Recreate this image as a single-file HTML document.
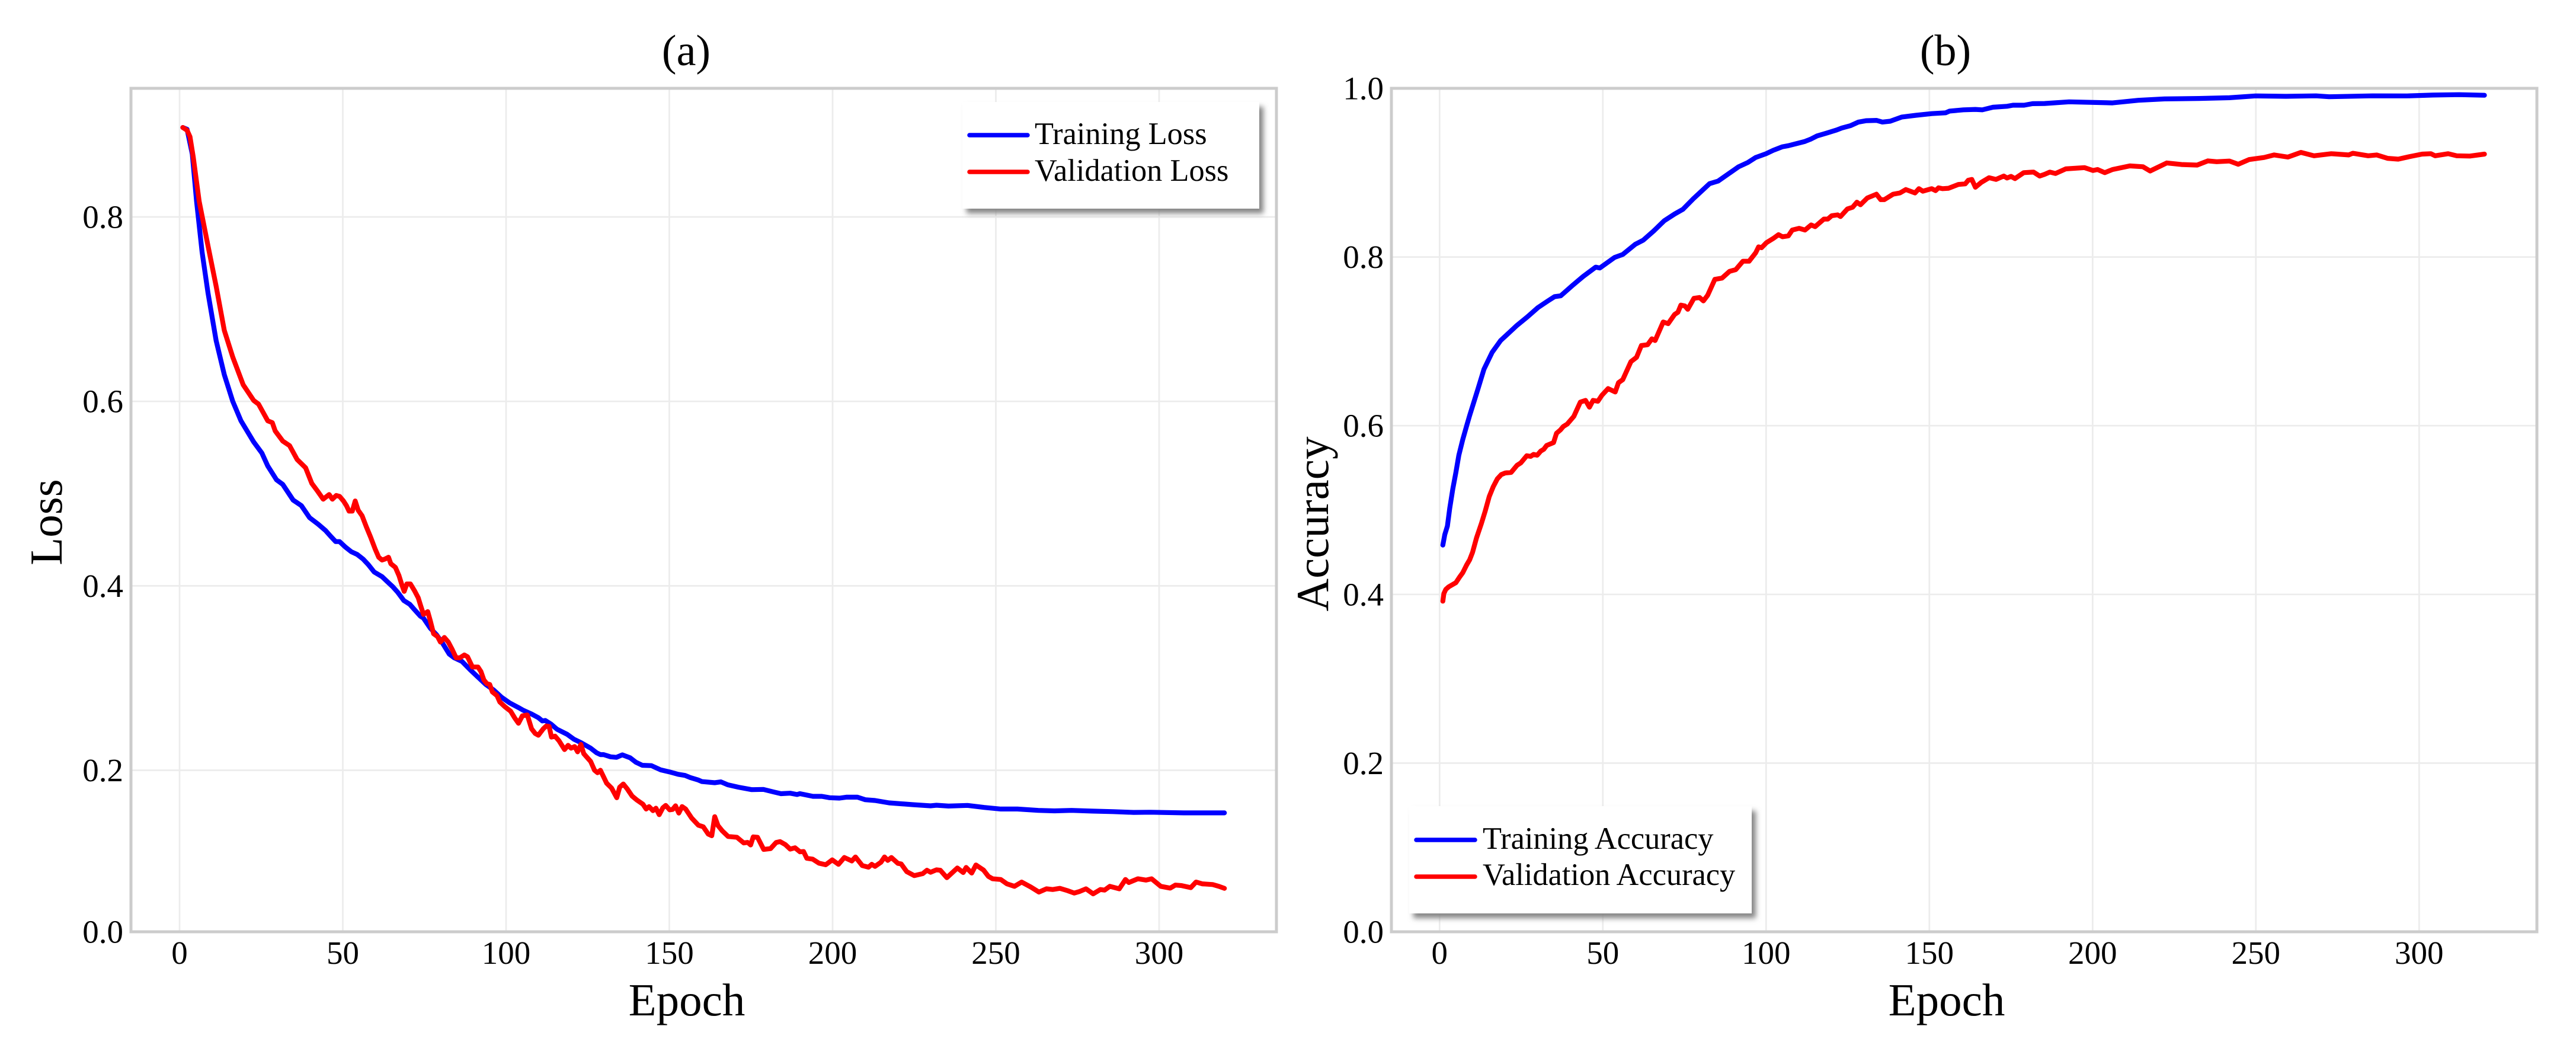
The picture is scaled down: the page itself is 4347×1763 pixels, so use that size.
<!DOCTYPE html>
<html lang="en">
<head>
<meta charset="utf-8">
<title>Training and validation curves</title>
<style>
html,body{margin:0;padding:0;background:#fff;width:4347px;height:1763px;overflow:hidden}
svg{display:block}
text{font-family:"Liberation Serif",serif;fill:#000}
.tick{font-size:55px}
.axis-title{font-size:77px}
.panel-title{font-size:74px}
.legend-text{font-size:52.4px}
</style>
</head>
<body>
<svg id="figure" xmlns="http://www.w3.org/2000/svg" width="4347" height="1763" viewBox="0 0 4347 1763">
  <defs>
    <filter id="soft" x="-10%" y="-20%" width="120%" height="140%"><feGaussianBlur stdDeviation="4.5"/></filter>
  </defs>
  <rect width="4347" height="1763" fill="#fff"/>

  <g id="panel-a">
    <g id="a-grid"></g>
    <g id="a-lines"></g>
    <rect x="221" y="149" width="1933" height="1423" fill="none" stroke="#cccccc" stroke-width="5"/>
    <g id="a-ticks"></g>
    <text class="panel-title" x="1158" y="110" text-anchor="middle">(a)</text>
    <text class="axis-title" x="1159" y="1713" text-anchor="middle">Epoch</text>
    <text class="axis-title" transform="translate(104 881) rotate(-90)" text-anchor="middle">Loss</text>
    <g>
      <rect x="1631" y="180" width="501" height="180" fill="#858585" filter="url(#soft)"/>
      <rect x="1624" y="172" width="501" height="180" fill="#fff"/>
      <line x1="1636" x2="1734" y1="228" y2="228" stroke="#0000ff" stroke-width="7.5" stroke-linecap="round"/>
      <text class="legend-text" x="1746" y="243">Training Loss</text>
      <line x1="1636" x2="1734" y1="290" y2="290" stroke="#ff0000" stroke-width="7.5" stroke-linecap="round"/>
      <text class="legend-text" x="1746" y="305">Validation Loss</text>
    </g>
  </g>

  <g id="panel-b">
    <g id="b-grid"></g>
    <g id="b-lines"></g>
    <rect x="2348" y="149" width="1933" height="1423" fill="none" stroke="#cccccc" stroke-width="5"/>
    <g id="b-ticks"></g>
    <text class="panel-title" x="3283" y="110" text-anchor="middle">(b)</text>
    <text class="axis-title" x="3285" y="1713" text-anchor="middle">Epoch</text>
    <text class="axis-title" transform="translate(2241 884) rotate(-90)" text-anchor="middle">Accuracy</text>
    <g>
      <rect x="2385" y="1368" width="578" height="181" fill="#858585" filter="url(#soft)"/>
      <rect x="2378" y="1360" width="578" height="181" fill="#fff"/>
      <line x1="2390" x2="2489" y1="1417" y2="1417" stroke="#0000ff" stroke-width="7.5" stroke-linecap="round"/>
      <text class="legend-text" x="2502" y="1432">Training Accuracy</text>
      <line x1="2390" x2="2489" y1="1479" y2="1479" stroke="#ff0000" stroke-width="7.5" stroke-linecap="round"/>
      <text class="legend-text" x="2502" y="1493">Validation Accuracy</text>
    </g>
  </g>
</svg>

<script>
var xTickValues = [0, 50, 100, 150, 200, 250, 300];
var lossYTickValues = [0, 0.2, 0.4, 0.6, 0.8];
var accYTickValues = [0, 0.2, 0.4, 0.6, 0.8, 1];

var lossTrainEpochs = [
1,2.3,3.9,5.2,6.9,8.7,11.2,13.7,16.3,18.8,
22.7,25.2,27,29.7,31.6,34.8,37.3,39.8,42.4,44.7,
46.2,47.8,49,50.8,52.6,54.4,56.2,57.8,59.6,62,
64.1,65.3,66.8,68.7,70.5,72,73.8,74.7,76.8,78.7,
80.5,82.6,84.1,86.5,89,91.4,93.8,96.2,98.7,101.1,
103.8,105.3,107.8,109.9,111.1,112,113.8,115.6,118.7,120.8,
122.9,125.9,127.7,128.9,129.9,132,133.8,135.6,138,139.8,
141.7,144.5,147.3,150,152.7,154.8,156.4,158.8,160,163.9,
165.8,167.9,171.2,175.2,178.8,182.1,184.2,187,189.1,190,
194,196.7,199.1,202.1,204.2,207.6,210,213,217.3,224.5,
230,231.8,235.5,241.3,246.4,251.5,256.6,263,268,273.2,
279.5,285.9,292.2,297.3,307.5,312.6,320];
var lossTrainValues = [
.897,.895,.868,.817,.762,.718,.666,.629,.600,.579,
.556,.544,.530,.515,.510,.493,.487,.474,.467,.460,
.454,.448,.448,.442,.437,.434,.429,.423,.415,.410,
.403,.399,.393,.384,.380,.374,.367,.365,.354,.347,
.338,.326,.322,.318,.309,.301,.293,.287,.279,.273,
.268,.265,.261,.257,.2535,.254,.250,.2445,.239,.2336,
.230,.224,.219,.217,.217,.2146,.214,.2167,.2135,.2086,
.2054,.205,.2005,.198,.195,.1936,.191,.188,.186,.1846,
.1856,.182,.179,.176,.1763,.173,.171,.1716,.170,.171,
.1677,.1677,.166,.1655,.1667,.1667,.1635,.1626,.1596,.1574,
.156,.1567,.1557,.1565,.154,.152,.152,.1503,.1497,.1503,
.1494,.1488,.1478,.148,.1472,.1472,.1472];

var lossValEpochs = [
1,2.3,3.2,4.2,6,8.7,11.2,13.7,16.3,19.5,
22.7,24.2,27,28.4,29.3,31.6,33.7,36,38.6,40.5,
42.4,44,45.8,46.8,48,49,50.2,51.1,51.9,52.9,
53.8,54.7,55.9,57.2,58.5,59.9,61,62,62.9,64,
64.7,66.1,67.2,68.1,68.8,69.6,70.7,71.9,73.1,73.8,
74.7,76,76.8,77.8,79,79.9,81.1,82.3,83.5,84.7,
85.9,87.2,88.2,89.7,91.4,92.3,93.2,94.1,95,95.8,
97.2,98.1,99.6,101.4,102.6,103.8,105,106.5,107.8,108.9,
109.9,111.4,112.3,113.2,113.9,115,116.2,117.9,119,119.9,
121,121.9,122.9,123.8,125.9,127.1,128,128.9,130.8,132.3,
133.9,134.8,135.9,137.1,138.6,140.1,141.9,142.9,143.8,145,
145.9,146.9,148,148.9,150.1,151,151.9,152.9,153.9,155,
156.8,158.9,160.4,161.9,163,163.9,164.9,166.2,168,170.7,
172.8,174,174.9,175.7,177,178.9,181,182.7,183.9,185.5,
187,188.5,190,191.1,192.1,193.9,195.8,197.9,199.9,201.8,
203.6,205.9,207,209.1,211,212,213,214.8,215.9,216.9,
218,220,221,222.7,225,227.6,228.9,230,231.8,233,
235,238.2,240,240.9,242.6,243.9,246.2,247.7,249,251.5,
253.4,255.7,257.9,260.7,263.2,265.5,267.4,269.6,271.9,274,
275.7,277.6,279.8,282,283.3,284.9,287.8,289.7,290.7,293.5,
296,297.7,300.5,303.4,305,306.9,309.7,311.3,313.2,316.4,
318.3,320];
var lossValValues = [
.897,.894,.887,.865,.817,.769,.725,.677,.648,.618,
.601,.597,.579,.577,.568,.557,.552,.537,.528,.511,
.502,.494,.499,.494,.498,.497,.492,.487,.481,.481,
.492,.482,.476,.464,.453,.440,.431,.428,.429,.431,
.424,.420,.411,.401,.394,.402,.402,.395,.387,.379,
.369,.372,.362,.348,.345,.339,.344,.339,.331,.322,
.322,.325,.323,.312,.312,.307,.298,.294,.293,.285,
.281,.274,.269,.264,.257,.251,.259,.260,.245,.240,
.238,.245,.248,.2475,.236,.237,.232,.2225,.227,.224,
.2257,.220,.228,.218,.2096,.200,.197,.200,.184,.178,
.166,.179,.183,.177,.168,.163,.158,.152,.155,.150,
.153,.145,.1535,.1565,.151,.1515,.156,.147,.155,.152,
.141,.132,.130,.121,.119,.1425,.1315,.125,.118,.117,
.110,.1107,.1075,.1175,.117,.102,.103,.1105,.1117,.108,
.1024,.104,.099,.0994,.091,.090,.085,.083,.089,.0835,
.092,.0877,.0926,.082,.080,.0835,.081,.086,.0926,.0884,
.092,.0847,.084,.0745,.0696,.072,.0762,.0737,.0767,.0762,
.067,.079,.0734,.0796,.0727,.0827,.0765,.0687,.0656,.0647,
.0594,.0563,.0616,.0554,.0492,.0532,.0523,.0538,.051,.0479,
.050,.0532,.047,.0523,.0516,.0563,.0532,.0647,.061,.0656,
.064,.0656,.0563,.0541,.0578,.0572,.0547,.0616,.0594,.0585,
.0563,.0538];

var accTrainEpochs = [
1,1.6,2.4,3.1,4.05,5,5.9,7.1,8.3,9.2,
11.7,13.6,16.1,18.7,21.2,23.7,26.9,30.1,33.2,35.2,
37.1,40.9,44,47.8,49.1,53.6,56.1,59.9,62.4,65.6,
68.8,72,74.5,77.7,82.7,85.3,91.6,94.4,96.8,100,
102.2,105,106.8,108.9,111.9,113.8,115.6,118.6,121.6,123.2,
125.9,128.3,130.7,133.8,135.6,138,141.6,145.9,150.7,155,
156.2,160.4,164.1,166.2,169.5,173.8,175.6,179,181.6,185.3,
192.8,206.1,214,222,232.6,241.9,249.9,259.2,268.4,272.4,
285.7,296.3,304.2,312.2,320];
var accTrainValues = [
.4585,.471,.481,.502,.525,.545,.565,.5836,.600,.612,
.643,.667,.687,.701,.710,.719,.729,.740,.748,.753,
.754,.767,.777,.788,.787,.7995,.803,.815,.820,.831,
.843,.851,.8565,.869,.887,.890,.907,.912,.918,.9225,
.9265,.9307,.932,.934,.937,.940,.9436,.947,.9506,.953,
.9558,.960,.9616,.962,.960,.961,.966,.968,.970,.971,
.973,.9745,.975,.9745,.9776,.9787,.980,.980,.9818,.982,
.984,.9827,.9858,.9874,.988,.9888,.991,.9905,.9911,.990,
.9911,.991,.992,.9925,.9918];

var accValEpochs = [
1,1.3,1.9,2.8,5,6.2,7.1,8.3,9.2,10.1,
11.3,12.8,14,15.2,16.4,17.7,18.9,20.1,21.9,23.7,
24.9,26.7,27.9,28.8,29.9,31,31.9,32.8,34.9,35.8,
37,37.9,39.1,41.1,43.1,44.7,45.9,47,48.5,49.7,
51.6,53.8,54.8,56.1,58.6,60.3,61.8,63.7,65,66,
68.5,70,72,73,73.9,75.1,76,77.9,79.6,80.8,
82.1,84.3,86.5,88.8,90.7,92.9,94.8,96.8,97.7,98.6,
100.1,102.2,103.8,105,106.8,108,110.1,111.9,113.8,115,
117.7,118.9,120.1,121.9,122.8,124.9,126.5,127.8,128.9,131,
133.8,135.1,136.2,138.9,141,142.8,145.6,146.8,148,150.7,
151.9,152.8,154,155.9,158.9,161,161.9,163,164.1,165.9,
168.3,170.4,172.8,173.8,175,176.2,178.9,181.9,183.8,185.3,
186.9,188.6,191.8,197.5,200.1,201.5,203.7,206.1,211.4,215.4,
217.6,222.7,227.3,232,235.3,238,241.9,244.6,247.9,252.5,
255.6,259.8,263.8,267.8,273.1,278.4,279.7,284.4,287,290.3,
293.6,297.6,300.9,303.6,304.9,308.9,311.5,315.5,320];
var accValValues = [
.392,.401,.406,.409,.414,.421,.4257,.435,.441,.450,
.467,.484,.499,.516,.5275,.537,.542,.544,.5446,.553,
.556,.5644,.5637,.566,.565,.570,.572,.5766,.580,.591,
.595,.599,.602,.611,.628,.630,.622,.630,.629,.636,
.644,.640,.651,.6546,.676,.681,.695,.696,.703,.701,
.723,.721,.732,.7345,.743,.742,.738,.751,.752,.748,
.7547,.7735,.775,.783,.785,.795,.795,.805,.812,.811,
.817,.822,.8265,.824,.825,.832,.834,.832,.838,.836,
.845,.845,.849,.850,.848,.857,.859,.865,.862,.870,
.8745,.868,.868,.8745,.876,.880,.876,.881,.878,.881,
.8787,.882,.881,.8815,.886,.8867,.891,.892,.8827,.8885,
.894,.892,.896,.8937,.8956,.893,.900,.9007,.896,.898,
.9007,.899,.9045,.906,.9026,.9037,.900,.9037,.908,.907,
.902,.9115,.9096,.909,.914,.913,.9138,.910,.9155,.918,
.921,.9185,.924,.920,.9225,.921,.923,.920,.921,.917,
.916,.9195,.922,.9225,.920,.9225,.920,.9197,.922];

var SVGNS = 'http://www.w3.org/2000/svg';

function xLoss(e) { return 303 + 5.51 * e; }
function xAcc(e) { return 2429.3 + 5.51 * e; }
/* The printed loss axis is compressed below 0.2: 0.0 sits on the bottom spine. */
function yLoss(v) { return v >= 0.2 ? 1299.5 - (v - 0.2) * 1555.8 : 1572 - v * 1362.5; }
function yAcc(v) { return 1572 - v * 1423; }

function svgEl(tag) { return document.createElementNS(SVGNS, tag); }

function linePath(xs, ys, xFn, yFn) {
  var d = '';
  for (var i = 0; i < xs.length; i++) {
    d += (i ? 'L' : 'M') + xFn(xs[i]).toFixed(1) + ' ' + yFn(ys[i]).toFixed(1);
  }
  return d;
}

function drawAxes(gridId, tickId, yTicks, xFn, yFn, left, right) {
  var grid = document.getElementById(gridId);
  var ticks = document.getElementById(tickId);
  xTickValues.forEach(function (t) {
    var g = svgEl('line');
    
    
    g.setAttribute('x1', xFn(t));
    g.setAttribute('x2', xFn(t));
    g.setAttribute('y1', 149);
    g.setAttribute('y2', 1572);
    g.setAttribute('stroke', '#ececec');
    g.setAttribute('stroke-width', '2.7');
    grid.appendChild(g);
    var s = svgEl('text');
    
    
    s.setAttribute('class', 'tick');
    s.setAttribute('x', xFn(t));
    s.setAttribute('y', 1626);
    s.setAttribute('text-anchor', 'middle');
    s.textContent = String(t);
    ticks.appendChild(s);
  });
  yTicks.forEach(function (t) {
    var g = svgEl('line');
    
    
    g.setAttribute('x1', left);
    g.setAttribute('x2', right);
    g.setAttribute('y1', yFn(t));
    g.setAttribute('y2', yFn(t));
    g.setAttribute('stroke', '#ececec');
    g.setAttribute('stroke-width', '2.7');
    grid.appendChild(g);
    var s = svgEl('text');
    
    
    s.setAttribute('class', 'tick');
    s.setAttribute('x', left - 13);
    s.setAttribute('y', yFn(t) + 18.5);
    s.setAttribute('text-anchor', 'end');
    s.textContent = t.toFixed(1);
    ticks.appendChild(s);
  });
}

function styleSeries(p, d, color) {
  p.setAttribute('d', d);
  p.setAttribute('fill', 'none');
  p.setAttribute('stroke', color);
  p.setAttribute('stroke-width', '8.2');
  p.setAttribute('stroke-linejoin', 'round');
  p.setAttribute('stroke-linecap', 'round');
}

drawAxes('a-grid', 'a-ticks', lossYTickValues, xLoss, yLoss, 221, 2154);
drawAxes('b-grid', 'b-ticks', accYTickValues, xAcc, yAcc, 2348, 4281);

var aLines = document.getElementById('a-lines');
var bLines = document.getElementById('b-lines');

var lt = svgEl('path');


styleSeries(lt, linePath(lossTrainEpochs, lossTrainValues, xLoss, yLoss), '#0000ff');
aLines.appendChild(lt);

var lv = svgEl('path');


styleSeries(lv, linePath(lossValEpochs, lossValValues, xLoss, yLoss), '#ff0000');
aLines.appendChild(lv);

var at = svgEl('path');


styleSeries(at, linePath(accTrainEpochs, accTrainValues, xAcc, yAcc), '#0000ff');
bLines.appendChild(at);

var av = svgEl('path');


styleSeries(av, linePath(accValEpochs, accValValues, xAcc, yAcc), '#ff0000');
bLines.appendChild(av);
</script>
</body>
</html>
